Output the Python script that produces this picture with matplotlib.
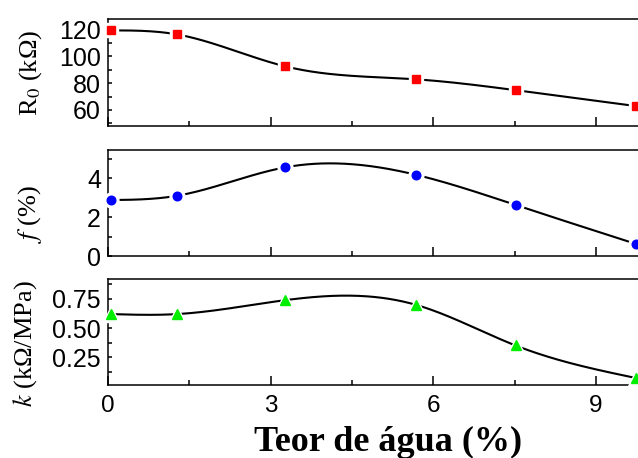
import matplotlib
matplotlib.use('Agg')
import matplotlib.pyplot as plt
import numpy as np
from matplotlib.ticker import MultipleLocator

# water content (%) and fitted parameters
teor = [0.05, 1.27, 3.27, 5.68, 7.52, 9.74]
r0 = [119.5, 116.5, 92.6, 82.9, 74.8, 62.9]
f_pct = [2.87, 3.09, 4.55, 4.17, 2.62, 0.62]
k_val = [0.62, 0.62, 0.74, 0.70, 0.35, 0.07]


def spline(x, y, xs):
    # natural cubic spline, just for the smooth guide line
    x = np.asarray(x, float)
    y = np.asarray(y, float)
    n = len(x)
    h = np.diff(x)
    A = np.zeros((n, n))
    b = np.zeros(n)
    A[0, 0] = A[-1, -1] = 1
    for i in range(1, n - 1):
        A[i, i - 1] = h[i - 1]
        A[i, i] = 2 * (h[i - 1] + h[i])
        A[i, i + 1] = h[i]
        b[i] = 6 * ((y[i + 1] - y[i]) / h[i] - (y[i] - y[i - 1]) / h[i - 1])
    M = np.linalg.solve(A, b)
    idx = np.clip(np.searchsorted(x, xs) - 1, 0, n - 2)
    x0, x1 = x[idx], x[idx + 1]
    hh = x1 - x0
    t0 = x1 - xs
    t1 = xs - x0
    return ((M[idx] * t0**3 + M[idx + 1] * t1**3) / (6 * hh)
            + (y[idx] / hh - M[idx] * hh / 6) * t0
            + (y[idx + 1] / hh - M[idx + 1] * hh / 6) * t1)


plt.rcParams['font.family'] = 'Liberation Sans'
plt.rcParams['mathtext.fontset'] = 'stix'

fig = plt.figure(figsize=(6.38, 4.58), dpi=100)
W, H = 638, 458
left, right = 108, 645


def make_ax(top, bottom):
    return fig.add_axes([left / W, 1 - bottom / H, (right - left) / W, (bottom - top) / H])


ax1 = make_ax(19, 126)
ax2 = make_ax(150, 256)
ax3 = make_ax(279, 385)

xs = np.linspace(0, teor[-1], 300)
panels = [
    (ax1, r0, 's', 'red', 5.8, (48, 128), 20, 10, 'R$_0$ (kΩ)', (-0.145, 0.495)),
    (ax2, f_pct, 'o', 'blue', 6.2, (0, 5.44), 2, 1, '$f$ (%)', (-0.145, 0.396)),
    (ax3, k_val, '^', '#00ee00', 7.0, (0.01, 0.922), 0.25, 0.125, '$k$ (kΩ/MPa)', (-0.155, 0.393)),
]

for ax, vals, mk, col, ms, ylim, maj, mnr, lab, lc in panels:
    ax.plot(xs, spline(teor, vals, xs), color='black', lw=1.5, zorder=2)
    ax.plot(teor, vals, mk, color='white', ms=ms + 4.5, zorder=3, clip_on=False)
    ax.plot(teor, vals, mk, color=col, ms=ms, mec=col, zorder=4, clip_on=False)
    ax.set_xlim(0, (right - left) / 54.2)
    ax.set_ylim(*ylim)
    ax.xaxis.set_major_locator(MultipleLocator(3))
    ax.xaxis.set_minor_locator(MultipleLocator(1.5))
    ax.yaxis.set_major_locator(MultipleLocator(maj))
    ax.yaxis.set_minor_locator(MultipleLocator(mnr))
    ax.tick_params(axis='x', which='major', direction='in', length=6.5, width=1.1,
                   labelsize=17.5, pad=7)
    ax.tick_params(axis='x', which='minor', direction='in', length=3.6, width=1.1)
    ax.tick_params(axis='y', which='both', direction='in', length=3, width=1.1,
                   labelsize=18, pad=5)
    for s in ax.spines.values():
        s.set_linewidth(1.1)
    ax.set_ylabel(lab, family='Liberation Serif', fontsize=19, va='center')
    ax.yaxis.set_label_coords(*lc)

ax1.set_yticks([60, 80, 100, 120])
ax3.set_yticks([0.25, 0.50, 0.75])
ax3.set_yticklabels(['0.25', '0.50', '0.75'])
ax1.tick_params(axis='x', labelbottom=False)
ax2.tick_params(axis='x', labelbottom=False)

fig.text(388 / W, 1 - 451 / H, 'Teor de água (%)', family='Liberation Serif',
         fontweight='bold', fontsize=26, ha='center', va='baseline')

fig.savefig('out.png', dpi=100)
